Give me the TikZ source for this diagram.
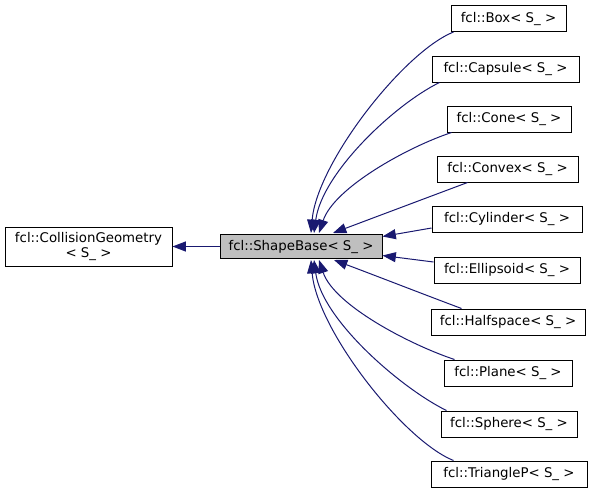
\documentclass[tikz,border=0pt]{standalone}
\usepackage{fontspec}
\setmainfont{DejaVu Sans}
\usetikzlibrary{arrows.meta,calc}
\definecolor{edgeblue}{HTML}{191970}
\definecolor{basegray}{HTML}{BFBFBF}
\begin{document}
\begin{tikzpicture}[x=0.75pt,y=-0.75pt,
  cls/.style={draw=black,line width=0.75pt,inner sep=0pt,minimum height=26*0.75pt,
    font=\fontsize{10}{12}\selectfont,text height=7.5pt,text depth=2pt},
  inh/.style={draw=edgeblue,line width=0.75pt,{Triangle[length=10pt,width=7.5pt]}-}]
\useasboundingbox (0,0) rectangle (592,493);
\node[cls,minimum width=167*0.75pt,minimum height=39*0.75pt,align=center,text height=,text depth=] (cg) at (88.5,246.5) {fcl::CollisionGeometry\\[-1pt]\textless{} S\_ \textgreater{}};
\node[cls,fill=basegray,minimum width=162*0.75pt,minimum height=24*0.75pt] (sb) at (301,246.5) {fcl::ShapeBase\textless{} S\_ \textgreater{}};
\node[cls,minimum width=115*0.75pt] (box) at (508.5,18.5) {fcl::Box\textless{} S\_ \textgreater{}};
\node[cls,minimum width=147*0.75pt] (capsule) at (505.5,69) {fcl::Capsule\textless{} S\_ \textgreater{}};
\node[cls,minimum width=124*0.75pt] (cone) at (509,119) {fcl::Cone\textless{} S\_ \textgreater{}};
\node[cls,minimum width=141*0.75pt] (convex) at (507.5,169) {fcl::Convex\textless{} S\_ \textgreater{}};
\node[cls,minimum width=150*0.75pt] (cylinder) at (507,219) {fcl::Cylinder\textless{} S\_ \textgreater{}};
\node[cls,minimum width=146*0.75pt] (ellipsoid) at (507,270) {fcl::Ellipsoid\textless{} S\_ \textgreater{}};
\node[cls,minimum width=154*0.75pt] (halfspace) at (508,322) {fcl::Halfspace\textless{} S\_ \textgreater{}};
\node[cls,minimum width=128*0.75pt] (plane) at (508,373) {fcl::Plane\textless{} S\_ \textgreater{}};
\node[cls,minimum width=136*0.75pt] (sphere) at (509,424) {fcl::Sphere\textless{} S\_ \textgreater{}};
\node[cls,minimum width=156*0.75pt] (trianglep) at (509,474) {fcl::TriangleP\textless{} S\_ \textgreater{}};
% inheritance edges
\draw[inh] (cg.east) -- (sb.west);
\draw[inh] ($(sb.north)+(10,-1)$) .. controls +(6,-70) and +(-50,20) .. ($(box.south west)+(3,0)$);
\draw[inh] ($(sb.north)+(13,-1)$) .. controls +(8,-60) and +(-45,22) .. ($(capsule.south west)+(8,0)$);
\draw[inh] ($(sb.north)+(18,-1)$) .. controls +(15,-45) and +(-45,15) .. ($(cone.south west)+(5,0)$);
\draw[inh] ($(sb.north)+(32,-1)$) .. controls +(40,-15) and +(-40,15) .. ($(convex.south west)+(31,0)$);
\draw[inh] ($(sb.east)+(0,-10)$) -- ($(cylinder.west)+(0,9)$);
\draw[inh] ($(sb.east)+(0,9)$) -- ($(ellipsoid.west)+(0,-8)$);
\draw[inh] ($(sb.south)+(33,1)$) .. controls +(40,15) and +(-40,-15) .. ($(halfspace.north west)+(31,0)$);
\draw[inh] ($(sb.south)+(18,1)$) .. controls +(15,45) and +(-45,-15) .. ($(plane.north west)+(11,0)$);
\draw[inh] ($(sb.south)+(13,1)$) .. controls +(8,60) and +(-45,-22) .. ($(sphere.north west)+(6,0)$);
\draw[inh] ($(sb.south)+(10,1)$) .. controls +(6,70) and +(-50,-20) .. ($(trianglep.north west)+(23,0)$);
\end{tikzpicture}
\end{document}
